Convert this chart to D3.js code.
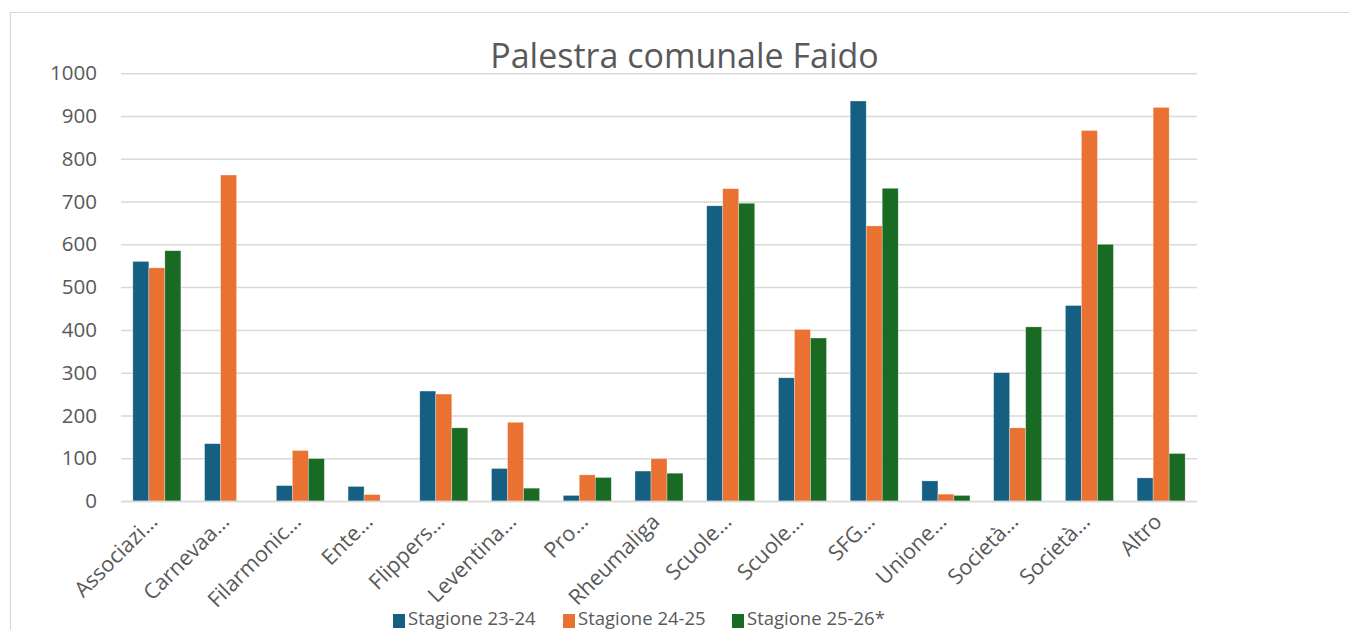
<!DOCTYPE html>
<html>
<head>
<meta charset="utf-8">
<script src="https://cdn.jsdelivr.net/npm/d3@7"></script>
<style>
  html, body { margin: 0; padding: 0; background: #fff; }
  svg { display: block; }
  text { font-family: "Open Sans", "Noto Sans", sans-serif; fill: #595959; }
</style>
</head>
<body>
<svg id="chart" width="1349" height="630"></svg>
<script>
const title = "Palestra comunale Faido";
const categories = ["Associazi…", "Carnevaa…", "Filarmonic…", "Ente…", "Flippers…", "Leventina…", "Pro…", "Rheumaliga", "Scuole…", "Scuole…", "SFG…", "Unione…", "Società…", "Società…", "Altro"];
const seriesNames = ["Stagione 23-24", "Stagione 24-25", "Stagione 25-26*"];
const stagione2324 = [560, 134, 36, 34, 257, 76, 13, 70, 690, 288, 935, 47, 300, 457, 54];
const stagione2425 = [545, 762, 118, 15, 250, 184, 61, 99, 730, 401, 643, 16, 171, 866, 920];
const stagione2526 = [585, 0, 99, 0, 171, 30, 55, 65, 696, 381, 731, 13, 407, 600, 111];
const yTicks = [0, 100, 200, 300, 400, 500, 600, 700, 800, 900, 1000];
const colors = ["#156082", "#E97132", "#196B24"];

const series = [stagione2324, stagione2425, stagione2526];
const svg = d3.select("#chart");

// chart frame
svg.append("path")
  .attr("d", "M10.5,630 L10.5,12.5 L1349,12.5")
  .attr("fill", "none").attr("stroke", "#d9d9d9").attr("stroke-width", 1.2);

const plotLeft = 121, plotRight = 1197, plotTop = 73.2, plotBottom = 501;
const idx = categories.map((d, i) => i);
const x = d3.scaleBand().domain(idx).range([plotLeft, plotRight]).paddingInner(0).paddingOuter(0);
const groupW = x.bandwidth() * 48 / 71.7;
const xs = d3.scaleBand().domain([0, 1, 2]).range([0, groupW]);
const y = d3.scaleLinear().domain([0, 1000]).range([plotBottom, plotTop]);

// gridlines
const yAxis = d3.axisLeft(y).tickValues(yTicks).tickFormat(d3.format("d"))
  .tickSize(-(plotRight - plotLeft)).tickPadding(24);
const gy = svg.append("g").attr("transform", `translate(${plotLeft},0)`).call(yAxis);
gy.select(".domain").remove();
gy.selectAll(".tick line").attr("stroke", "#d9d9d9").attr("stroke-width", 1.5);
gy.selectAll(".tick text").attr("font-size", 20.5).attr("fill", "#595959")
  .style("font-family", '"Open Sans", "Noto Sans", sans-serif');

// bars
series.forEach((vals, s) => {
  svg.append("g").selectAll("rect").data(vals).join("rect")
    .attr("x", (d, i) => x(i) + (x.bandwidth() - groupW) / 2 + xs(s))
    .attr("y", d => y(d))
    .attr("width", xs.bandwidth())
    .attr("height", d => plotBottom - y(d))
    .attr("fill", colors[s])
    .attr("stroke", "#ffffff").attr("stroke-opacity", 0.5).attr("stroke-width", 0.6);
});

// baseline
svg.append("line").attr("x1", plotLeft).attr("x2", plotRight).attr("y1", plotBottom + 0.5).attr("y2", plotBottom + 0.5)
  .attr("stroke", "#d9d9d9").attr("stroke-width", 1.5);

// x labels
const xAxis = d3.axisBottom(x).tickSize(0).tickFormat(i => categories[i]);
const gx = svg.append("g").attr("transform", `translate(0,${plotBottom})`).call(xAxis);
gx.select(".domain").remove();
gx.selectAll(".tick text")
  .attr("font-size", 21.5).attr("fill", "#595959")
  .style("font-family", '"Open Sans", "Noto Sans", sans-serif')
  .attr("text-anchor", "end")
  .attr("dy", null).attr("y", 0)
  .attr("transform", "translate(2,22) rotate(-45)");

// title
svg.append("text").attr("x", 684.5).attr("y", 68).attr("text-anchor", "middle")
  .attr("font-size", 34).text(title);

// legend
const legendX = [393, 563, 732];
const lg = svg.append("g");
seriesNames.forEach((n, s) => {
  lg.append("rect").attr("x", legendX[s]).attr("y", 614).attr("width", 12).attr("height", 14).attr("fill", colors[s]);
  lg.append("text").attr("x", legendX[s] + 15).attr("y", 625).attr("font-size", 18.5).text(n);
});
</script>
</body>
</html>
